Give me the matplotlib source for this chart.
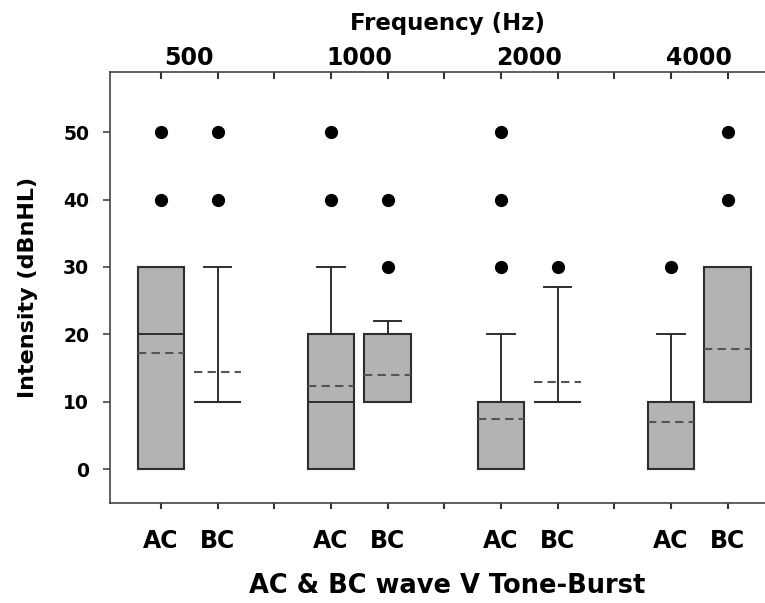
import matplotlib
matplotlib.use("Agg")
import matplotlib.pyplot as plt

plt.rcParams['font.family'] = ['DejaVu Sans']
plt.rcParams['font.weight'] = 'bold'

# box positions and labels
positions = [1, 2, 4, 5, 7, 8, 10, 11]
groups = ['AC', 'BC', 'AC', 'BC', 'AC', 'BC', 'AC', 'BC']
freq_labels = ['500', '1000', '2000', '4000']
freq_pos = [1.5, 4.5, 7.5, 10.5]

# summary values (dBnHL)
q1 = [0, 10, 0, 10, 0, 10, 0, 10]
q3 = [30, 10, 20, 20, 10, 10, 10, 30]
medians = [20, 10, 10, 10, 10, 10, 10, 10]
whis_lo = [0, 10, 0, 10, 0, 10, 0, 10]
whis_hi = [30, 30, 30, 22, 20, 27, 20, 30]
means = [17.2, 14.4, 12.3, 14.0, 7.4, 12.9, 7.0, 17.8]
outliers = [[40, 50], [40, 50], [40, 50], [30, 40], [30, 40, 50], [30], [30], [40, 50]]

stats = []
for i in range(len(positions)):
    stats.append(dict(med=medians[i], q1=q1[i], q3=q3[i], whislo=whis_lo[i],
                      whishi=whis_hi[i], mean=means[i], fliers=outliers[i],
                      label=groups[i]))

edge = '#2e2e2e'
fig = plt.figure(figsize=(7.65, 6.03), dpi=100)
ax = fig.add_axes([110 / 765, 100.3 / 603, 674.4 / 765, 431 / 603])

ax.bxp(stats, positions=positions, widths=0.82, capwidths=0.48,
       showmeans=True, meanline=True, patch_artist=True,
       boxprops=dict(facecolor='#b3b3b3', edgecolor=edge, linewidth=1.5),
       medianprops=dict(color=edge, linewidth=1.4),
       meanprops=dict(color='#555555', linewidth=1.5, linestyle=(0, (4, 2.5))),
       whiskerprops=dict(color=edge, linewidth=1.4),
       capprops=dict(color=edge, linewidth=1.4),
       flierprops=dict(marker='o', markerfacecolor='black', markeredgecolor='black',
                       markersize=8.5))

ax.set_xlim(0.1, 12)
ax.set_ylim(-5, 59)

for s in ['left', 'bottom', 'top']:
    ax.spines[s].set_color('#444444')
    ax.spines[s].set_linewidth(1.2)
ax.spines['right'].set_visible(False)

ax.set_yticks([0, 10, 20, 30, 40, 50])
ax.tick_params(axis='y', direction='out', length=5, width=1.2, color='#444444',
               labelsize=13.5, pad=10)
ax.set_xticks(positions)
ax.set_xticklabels(groups)
ax.set_xticks([3, 6, 9], minor=True)
ax.tick_params(axis='x', which='both', direction='out', length=4, width=1.5,
               color='#333333', labelsize=17, pad=15)

# top axis: frequency labels
top = ax.secondary_xaxis('top')
top.set_xticks(freq_pos)
top.set_xticklabels(freq_labels)
top.set_xticks(range(1, 12), minor=True)
top.tick_params(which='major', length=0, labelsize=17, pad=1)
top.tick_params(which='minor', direction='in', length=5, width=1.5, color='#333333')
top.spines['top'].set_visible(False)
top.set_xlabel('Frequency (Hz)', fontsize=16.5, fontweight='bold', labelpad=12)

ax.set_xlabel('AC & BC wave V Tone-Burst', fontsize=18.5, fontweight='bold', labelpad=14)
ax.set_ylabel('Intensity (dBnHL)', fontsize=16, fontweight='bold', labelpad=18)

fig.savefig('out.png', dpi=100)
